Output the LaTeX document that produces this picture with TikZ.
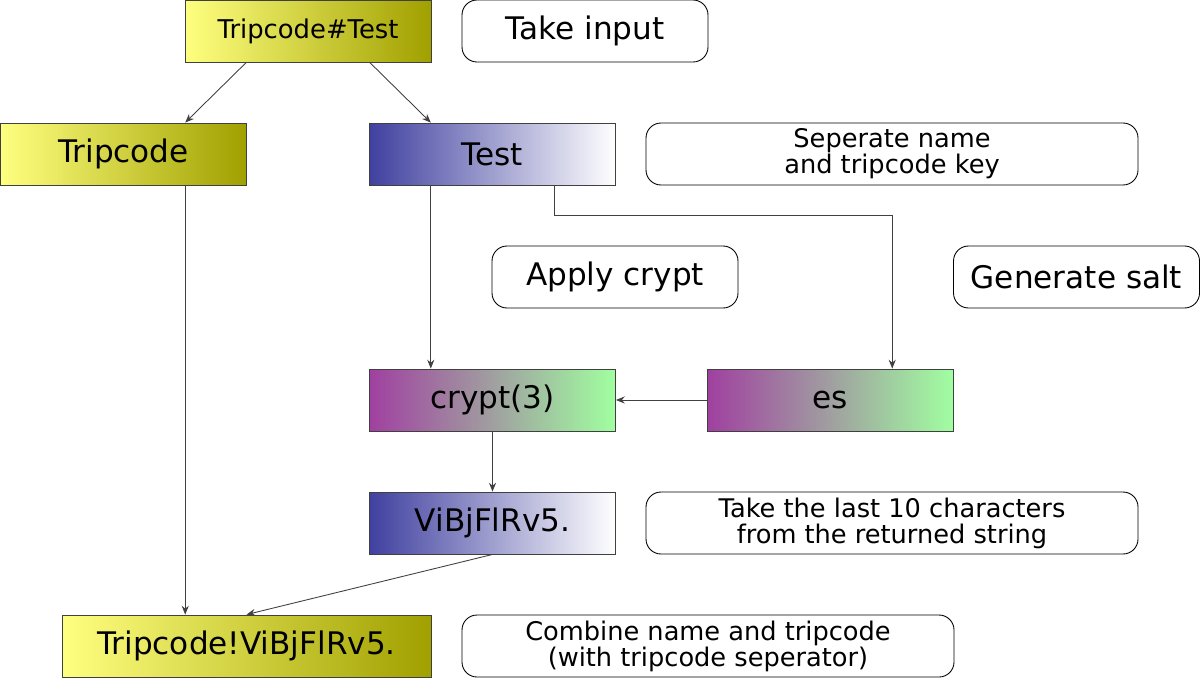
\documentclass[tikz,border=0pt]{standalone}
\usepackage{fontspec}
\setmainfont{DejaVu Sans}
\usepackage{xcolor}
\usetikzlibrary{positioning, calc, arrows.meta}

\definecolor{lemon}{HTML}{FFFF80}
\definecolor{olive}{HTML}{A0A000}
\definecolor{indigo}{HTML}{4040A0}
\definecolor{plum}{HTML}{A040A0}
\definecolor{mint}{HTML}{A0FFA0}
\definecolor{edge}{HTML}{404040}

\tikzset{
    box/.style={draw=edge, line width=0.5pt, minimum width=4.92cm, minimum height=1.24cm,
        inner sep=0pt, font=\fontsize{17.7}{20}\selectfont},
    yellowbox/.style={box, left color=lemon, right color=olive},
    bluebox/.style={box, left color=indigo, right color=white},
    saltbox/.style={box, left color=plum, right color=mint},
    note/.style={draw=black, line width=0.5pt, rounded corners=0.3cm, minimum width=4.92cm,
        minimum height=1.24cm, inner sep=0pt, align=center, font=\fontsize{17.7}{20}\selectfont},
    widenote/.style={note, minimum width=9.84cm, font=\fontsize{14.6}{14.8}\selectfont},
}

\begin{document}
\begin{tikzpicture}[>={Stealth[length=5pt,width=4pt]}, node distance=2.46cm, on grid]
        \useasboundingbox (0,0) rectangle (24,-13.56);

        \node[yellowbox, font=\fontsize{14.7}{16}\selectfont] (inp) at (6.16,-0.62) {Tripcode\#Test};
        \node[note] (takeinput) [right=5.54 of inp] {Take input};

        \node[yellowbox] (tripcode) [below left=2.46 and 3.69 of inp] {Tripcode};
        \node[bluebox] (test) [right=7.38 of tripcode] {Test};
        \node[widenote] (separate) [right=7.99 of test] {Seperate name\\and tripcode key};

        \node[saltbox] (crypt) [below=4.92 of test] {crypt(3)};
        \node[note] (applycrypt) [above right=2.46 and 2.45 of crypt] {Apply crypt};
        \node[saltbox] (salt) [right=6.76 of crypt] {es};
        \node[note] (gensalt) [above right=2.46 and 4.92 of salt] {Generate salt};

        \node[bluebox] (hash) [below=2.46 of crypt] {ViBjFlRv5.};
        \node[widenote] (lastten) [right=7.99 of hash] {Take the last 10 characters\\ from the returned string};

        \node[yellowbox, minimum width=7.38cm] (result) [below left=2.46 and 4.92 of hash] {Tripcode!ViBjFlRv5.};
        \node[widenote] (combine) [right=9.23 of result] {Combine name and tripcode\\(with tripcode seperator)};

        \coordinate (nameout) at ($(tripcode.south west)!0.75!(tripcode.south east)$);

        \begin{scope}[draw=edge, line width=0.5pt]
        \draw[->] ($(inp.south west)!0.25!(inp.south east)$) -- ($(tripcode.north west)!0.75!(tripcode.north east)$);
        \draw[->] ($(inp.south west)!0.75!(inp.south east)$) -- ($(test.north west)!0.25!(test.north east)$);

        \draw[->] (nameout) -- (nameout |- result.north);
        \draw[->] ($(test.south west)!0.25!(test.south east)$) -- ($(crypt.north west)!0.25!(crypt.north east)$);
        \draw[->] ($(test.south west)!0.75!(test.south east)$) -- ++(0,-0.6) -| ($(salt.north west)!0.75!(salt.north east)$);

        \draw[->] (salt.west) -- (crypt.east);
        \draw[->] (crypt.south) -- (hash.north);
        \draw[->] (hash.south) -- (result.north);
        \end{scope}
\end{tikzpicture}
\end{document}
